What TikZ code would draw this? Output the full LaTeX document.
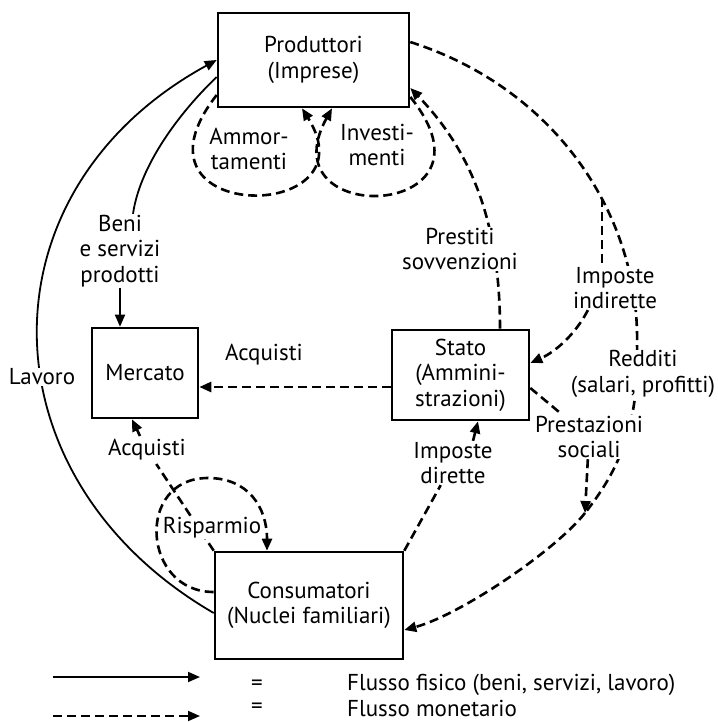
\documentclass[tikz,border=0pt]{standalone}
\usepackage{fontspec}
\setmainfont{PT Sans}
\usetikzlibrary{arrows.meta, positioning}

\begin{document}
\begin{tikzpicture}[
    x=1pt, y=-1pt,
    font=\fontsize{23}{25.5}\selectfont,
    box/.style={rectangle, draw, line width=2.6pt, align=center, inner sep=0pt},
    lbl/.style={align=center, fill=white, inner sep=1pt},
    fis/.style={line width=1.8pt},
    mon/.style={line width=2.6pt, dash pattern=on 9pt off 5pt},
    tip/.style={-{Triangle[length=12pt, width=10pt]}}
]
\useasboundingbox (0,0) rectangle (717,722);

% Main components
\node[box, minimum width=191pt, minimum height=94pt] (prod) at (313.5,60) {Produttori\\(Imprese)};
\node[box, minimum width=106pt, minimum height=90pt] (merc) at (145,373) {Mercato};
\node[box, minimum width=137pt, minimum height=90pt] (stato) at (460.5,375) {Stato\\(Ammini-\\strazioni)};
\node[box, minimum width=188pt, minimum height=107pt] (cons) at (309,605.5) {Consumatori\\(Nuclei familiari)};

% Physical flows
\draw[fis, tip] ([yshift=-7.5pt]cons.west) .. controls (-19,478) and (-23,191) .. (prod.west);
\node[lbl] (lav) at (42,377) {Lavoro};
\node[lbl] (beni) at (120,251) {Beni\\e servizi\\prodotti};
\draw[fis] ([yshift=-17pt]prod.west) .. controls (180,112) and (140,165) .. ([xshift=13pt]beni.north);
\draw[fis, tip] (beni) -- (beni |- merc.north);

% Loops below the firms
\draw[mon, tip] ([yshift=-35pt]prod.west) .. controls (115,225) and (375,225) .. ([xshift=-11.5pt]prod.south);
\node[align=center] (amm) at (249,149) {Ammor-\\tamenti};
\draw[mon, tip] ([yshift=-37pt]prod.east) .. controls (510,220) and (265,230) .. ([xshift=18.5pt]prod.south);
\node[align=center] (inv) at (377,145) {Investi-\\menti};

% Monetary flows
\draw[mon, tip] ([xshift=39.5pt]stato.north) .. controls (500,220) and (470,150) .. ([yshift=-28pt]prod.east);
\node[lbl] (prest) at (460,249) {Prestiti\\sovvenzioni};

\coordinate (r1) at (637,345);
\coordinate (merge) at (585,513);
\coordinate (fork) at (602,198);
\draw[mon] ([yshift=18pt]prod.east) .. controls (560,90) and (640,220) .. (r1)
    .. controls (640,430) and (615,475) .. (merge);
\draw[mon, tip] (merge) .. controls (555,551) and (460,615) .. ([yshift=-24.5pt]cons.east);

\node[lbl] (impind) at (615,288) {Imposte\\indirette};
\node[lbl] (redd) at (643,374) {Redditi\\(salari, profitti)};
\draw[mon] (fork) -- (fork |- impind.north);
\draw[mon, tip] ([xshift=16pt]impind.south west) .. controls (575,335) and (555,352) .. ([yshift=12pt]stato.east);

\node[lbl] (prestaz) at (589,437) {Prestazioni\\sociali};
\draw[mon] ([yshift=-13pt]stato.east) -- (prestaz);
\draw[mon, tip] (prestaz) -- (merge);

\node[lbl] (impdir) at (453,463) {Imposte\\dirette};
\draw[mon] (cons.north east) -- (impdir);
\draw[mon, tip] ([xshift=20pt]impdir.north) -- ([xshift=17.5pt]stato.south);

\draw[mon, tip] ([yshift=-12pt]stato.west) -- ([yshift=-14pt]merc.east);
\node (acq1) at (264,355) {Acquisti};

\node (acq2) at (147,450) {Acquisti};
\draw[mon] (cons.north west) -- (acq2);
\draw[mon, tip] ([xshift=-7pt]acq2.north) -- ([xshift=-13pt]merc.south);

\coordinate (rtop) at (208,478);
\draw[mon, tip] ([yshift=13.5pt]cons.west) .. controls (142,592) and (135,478) .. (rtop)
    .. controls (248,478) and (267,507) .. ([xshift=-42pt]cons.north);
\node[lbl, inner sep=0.5pt] (risp) at (212,528) {Risparmio};

% Legend
\coordinate (fs) at (53,677);
\coordinate (fe) at (200,677);
\coordinate (ms) at (53,716);
\coordinate (me) at (200,716);
\draw[fis, tip] (fs) -- (fe);
\draw[mon, line width=1.8pt, tip] (ms) -- (me);
\node[inner sep=0pt] (eq1) at (257,685) {=};
\node[inner sep=0pt] (eq2) at (257,708) {=};
\node[inner sep=0pt, right=84pt of eq1] (legfis) {Flusso fisico (beni, servizi, lavoro)};
\node[inner sep=0pt, right=84pt of eq2] (legmon) {Flusso monetario};

\end{tikzpicture}
\end{document}
